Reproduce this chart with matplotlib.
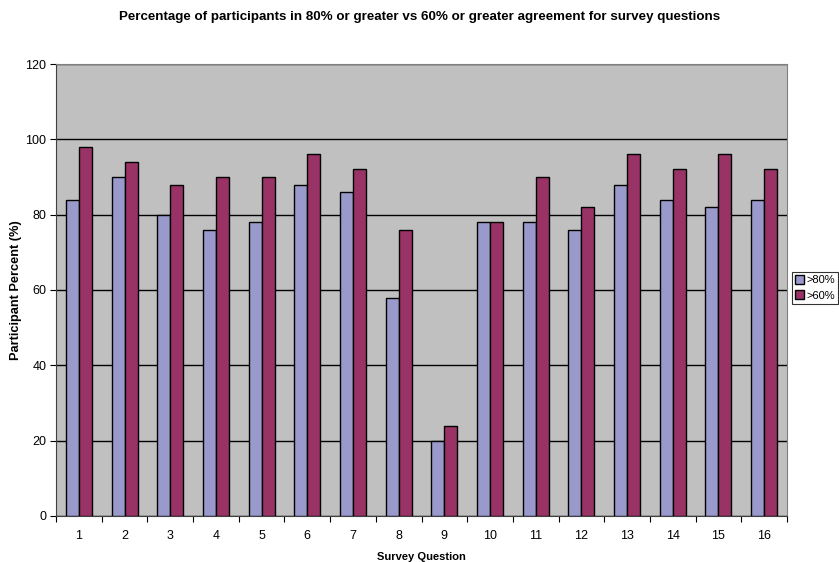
import matplotlib
matplotlib.use('Agg')
import matplotlib.pyplot as plt
import numpy as np

plt.rcParams['font.family'] = ['Liberation Sans', 'DejaVu Sans']

# survey data
questions = [str(i) for i in range(1, 17)]
over80 = [84, 90, 80, 76, 78, 88, 86, 58, 20, 78, 78, 76, 88, 84, 82, 84]
over60 = [98, 94, 88, 90, 90, 96, 92, 76, 24, 78, 90, 82, 96, 92, 96, 92]
series_names = ['>80%', '>60%']

fig = plt.figure(figsize=(8.39, 5.62), dpi=100)
ax = fig.add_axes([56/839., 46/562., 731/839., 452/562.])
ax.set_facecolor('#C0C0C0')

x = np.arange(len(questions))
width = 0.285
ax.bar(x - width/2, over80, width, color='#9999CC', edgecolor='black', linewidth=1.0,
       label=series_names[0], zorder=3)
ax.bar(x + width/2, over60, width, color='#993366', edgecolor='black', linewidth=1.0,
       label=series_names[1], zorder=3)

ax.set_xlim(-0.5, len(questions) - 0.5)
ax.set_ylim(0, 120)
ax.set_yticks(np.arange(0, 121, 20))
ax.yaxis.grid(True, color='black', linewidth=1.0, zorder=1)
ax.set_axisbelow(True)

# ticks between categories, labels at centres
ax.set_xticks(np.arange(-0.5, len(questions), 1.0))
ax.set_xticklabels([])
ax.set_xticks(x, minor=True)
ax.set_xticklabels(questions, minor=True, fontsize=9)
ax.tick_params(axis='x', which='minor', length=0, pad=10)
ax.tick_params(axis='x', which='major', direction='out', length=4, color='black')
ax.tick_params(axis='y', direction='out', length=4, labelsize=9, pad=3)

for s in ['left', 'bottom']:
    ax.spines[s].set_color('#404040')
for s in ['top', 'right']:
    ax.spines[s].set_color('#808080')

ax.set_xlabel('Survey Question', fontsize=8, fontweight='bold', labelpad=7)
ax.set_ylabel('Participant Percent (%)', fontsize=9.2, fontweight='bold', labelpad=2)
fig.text(0.5, 1 - 17/562., 'Percentage of participants in 80% or greater vs 60% or greater agreement for survey questions',
         ha='center', va='center', fontsize=9.6, fontweight='bold')

# legend sits hard against the right edge, as in the original
leg = fig.legend(loc='upper left', bbox_to_anchor=(792/839., 1 - 272/562.), fontsize=8,
                 frameon=True, fancybox=False, edgecolor='black', handlelength=0.8,
                 handleheight=0.8, handletextpad=0.2, borderpad=0.3, labelspacing=0.45,
                 borderaxespad=0)
leg.get_frame().set_linewidth(0.8)

plt.savefig('out.png', dpi=100)
